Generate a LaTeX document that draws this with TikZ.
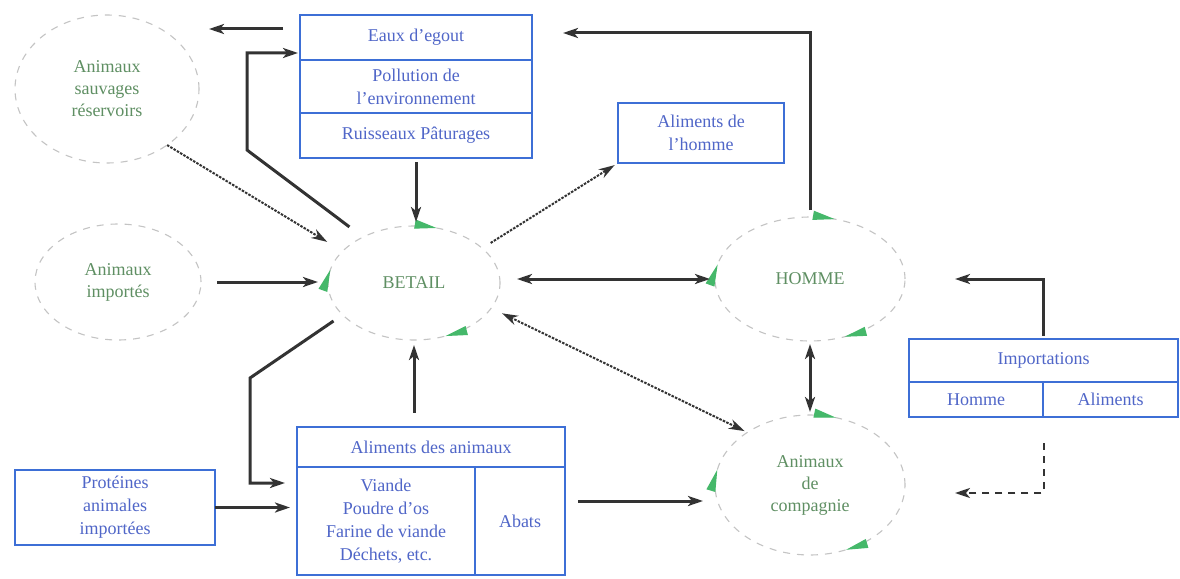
\documentclass[tikz,border=0pt]{standalone}
\usepackage{fontspec}
\setmainfont{Liberation Serif}
\usepackage{tikz}
\usetikzlibrary{arrows.meta,positioning,fit,shapes.geometric,decorations.markings}
\definecolor{Ink}{HTML}{333333}
\definecolor{Blue}{HTML}{3D6FD6}
\definecolor{BoxText}{HTML}{5066C8}
\definecolor{Rim}{HTML}{C4C4C4}
\definecolor{Sage}{HTML}{5F8F63}
\definecolor{Leaf}{HTML}{45B86A}
\tikzset{
  cell/.style={draw=Blue,line width=1.3pt,outer sep=0pt,inner sep=0pt,align=center,
    text=BoxText,font=\fontsize{18}{23}\selectfont},
  blob/.style={ellipse,draw=Rim,line width=1.1pt,dash pattern=on 7pt off 7pt,inner sep=0pt,
    outer sep=0pt,align=center,text=Sage,font=\fontsize{18}{22}\selectfont},
  loopblob/.style={blob,postaction={decorate,decoration={markings,
      mark=at position 0.2 with {\arrowreversed[Leaf]{Triangle[length=22pt,width=9pt]}},
      mark=at position 0.47 with {\arrowreversed[Leaf]{Triangle[length=22pt,width=9pt]}},
      mark=at position 0.82 with {\arrowreversed[Leaf]{Triangle[length=22pt,width=9pt]}}}}},
  arrow/.style={-{Stealth[length=15pt,width=10pt,inset=4pt]},line width=3pt,color=Ink},
  twoway/.style={arrow,{Stealth[length=15pt,width=10pt,inset=4pt]}-{Stealth[length=15pt,width=10pt,inset=4pt]}},
  dotarrow/.style={-{Stealth[length=16pt,width=10pt]},line width=2pt,color=Ink,dash pattern=on 2.5pt off 1.3pt},
  dotboth/.style={dotarrow,{Stealth[length=16pt,width=10pt]}-{Stealth[length=16pt,width=10pt]}},
  dasharrow/.style={arrow,line width=2pt,dash pattern=on 7pt off 6pt}
}
\begin{document}
\begin{tikzpicture}[x=1pt,y=-1pt]
  \useasboundingbox[fill=white] (0,0) rectangle (1180,578);
  % ellipses
  \node[blob,minimum width=184pt,minimum height=148pt] (sauv) at (107,89) {Animaux\\sauvages\\réservoirs};
  \node[blob,minimum width=166pt,minimum height=116pt] (impo) at (118,282) {Animaux\\importés};
  \node[loopblob,minimum width=172pt,minimum height=114pt] (betail) at (414,283) {BETAIL};
  \node[loopblob,minimum width=190pt,minimum height=124pt] (homme) at (810,279) {HOMME};
  \node[loopblob,minimum width=190pt,minimum height=140pt] (compagnie) at (810,485) {Animaux\\de\\compagnie};
  % boxes
  \node[cell,minimum width=232pt,minimum height=45pt] (eaux1) at (416,37.5) {Eaux d'egout};
  \node[cell,minimum width=232pt,minimum height=53pt,below=0pt of eaux1] (eaux2) {Pollution de\\l'environnement};
  \node[cell,minimum width=232pt,minimum height=45pt,below=0pt of eaux2] (eaux3) {Ruisseaux Pâturages};
  \node[fit=(eaux1)(eaux3),inner sep=0pt] (eaux) {};
  \node[cell,minimum width=166pt,minimum height=60pt] (alimh) at (701,133) {Aliments de\\l'homme};
  \node[cell,minimum width=200pt,minimum height=75pt] (prot) at (115,507.5) {Protéines\\animales\\importées};
  \node[cell,minimum width=268pt,minimum height=40pt] (alia1) at (431,447) {Aliments des animaux};
  \node[cell,minimum width=178pt,minimum height=108pt,below right=0pt of alia1.south west] (alia2)
    {Viande\\Poudre d'os\\Farine de viande\\Déchets, etc.};
  \node[cell,minimum width=90pt,minimum height=108pt,right=0pt of alia2] (alia3) {Abats};
  \node[fit=(alia1)(alia2)(alia3),inner sep=0pt] (alia) {};
  \node[cell,minimum width=269pt,minimum height=43pt] (imp1) at (1043.5,360.5) {Importations};
  \node[cell,minimum width=134pt,minimum height=35pt,below right=0pt of imp1.south west] (imp2) {Homme};
  \node[cell,minimum width=135pt,minimum height=35pt,right=0pt of imp2] (imp3) {Aliments};
  \node[fit=(imp1)(imp2)(imp3),inner sep=0pt] (imp) {};
  % connectors
  \coordinate (egout) at ([yshift=8.5pt]eaux1.west);
  \coordinate (inlet) at ([yshift=-15.5pt]eaux1.west);
  \coordinate (kink) at (247,150);
  \coordinate (bend) at (250,378);
  \coordinate (feed) at ([yshift=38pt]alia2.west);
  \coordinate (outfall) at ([xshift=31pt,yshift=4.5pt]eaux1.east);
  \draw[arrow,shorten <=17pt,shorten >=10pt] (egout) -- (egout -| sauv.east);
  \draw[arrow,shorten <=17pt,shorten >=2pt] (betail.138) -- (kink) |- (inlet);
  \draw[dotarrow,shorten >=18pt] (sauv.-43) -- (betail.156);
  \draw[arrow,shorten <=4pt,shorten >=4pt] (eaux3.south) -- (eaux3.south |- betail.north);
  \draw[arrow,shorten <=16pt,shorten >=10pt] (impo.east) -- (impo.east -| betail.west);
  \draw[dotarrow,shorten <=10pt,shorten >=4pt] (betail.27) -- (alimh.south west);
  \draw[twoway,shorten <=17pt,shorten >=5pt] (homme.west -| betail.east) -- (homme.west);
  \draw[dotboth,shorten <=12pt,shorten >=3pt] (betail.-18) -- (compagnie.140);
  \draw[arrow,shorten <=11pt,shorten >=12pt] (betail.204) -- (bend) |- (feed);
  \draw[arrow,shorten >=7pt] (prot.east) -- (prot.east -| alia2.west);
  \draw[arrow,shorten <=14pt,shorten >=5pt] (betail.south |- alia.north) -- (betail.south);
  \draw[arrow,shorten <=13pt,shorten >=12pt] (alia.east) -- (alia.east -| compagnie.west);
  \draw[arrow,shorten <=7pt] (homme.north) |- (outfall);
  \draw[twoway,shorten <=3pt,shorten >=3pt] (homme.south) -- (compagnie.north);
  \draw[arrow,shorten <=3pt,shorten >=50pt] (imp.north) |- (homme.east);
  \draw[dasharrow,shorten <=26pt,shorten >=50pt] (imp.south) |- ([yshift=-8pt]compagnie.east);
\end{tikzpicture}
\end{document}
